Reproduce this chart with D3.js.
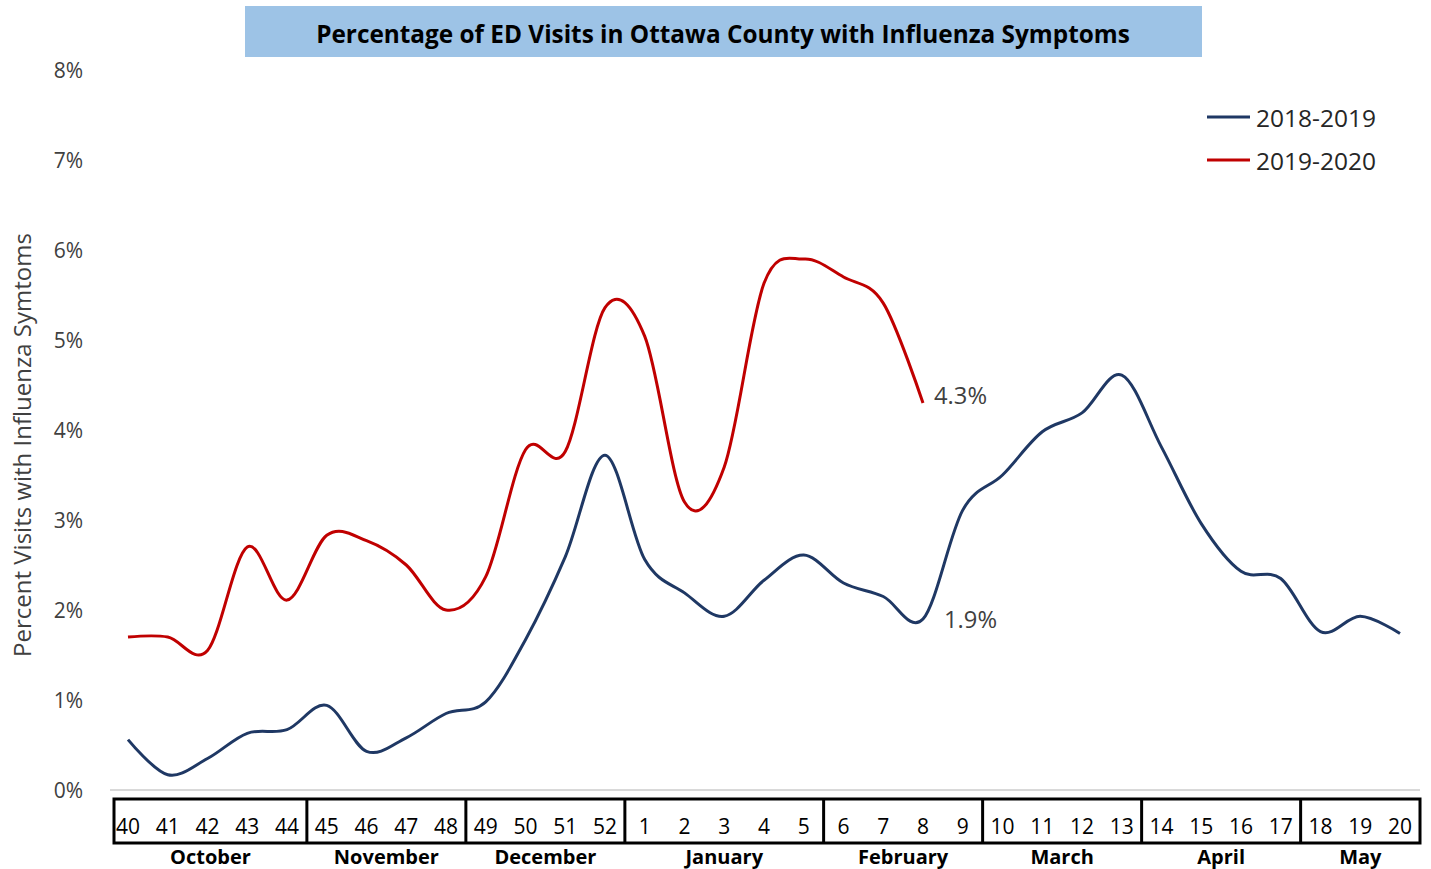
<!DOCTYPE html>
<html>
<head>
<meta charset="utf-8">
<script src="https://cdn.jsdelivr.net/npm/d3@7"></script>
<style>
  html, body { margin: 0; padding: 0; background: #fff; }
  svg { display: block; }
  text { font-family: "Open Sans", "Noto Sans", sans-serif; }
</style>
</head>
<body>
<svg id="chart" width="1431" height="869"></svg>
<script>
// ---------- DATA ----------
const weeks = [40,41,42,43,44,45,46,47,48,49,50,51,52,1,2,3,4,5,6,7,8,9,10,11,12,13,14,15,16,17,18,19,20];
const months = ["October","November","December","January","February","March","April","May"];
const weeksPerMonth = [5,4,4,5,4,4,4,3];
const season1819 = [0.56,0.17,0.35,0.63,0.67,0.94,0.43,0.58,0.85,0.98,1.67,2.59,3.72,2.56,2.19,1.93,2.33,2.61,2.30,2.15,1.90,3.11,3.50,3.98,4.19,4.61,3.81,2.96,2.43,2.35,1.76,1.93,1.74];
const season1920 = [1.70,1.70,1.55,2.70,2.11,2.83,2.77,2.50,2.00,2.37,3.78,3.76,5.36,5.04,3.20,3.59,5.63,5.90,5.70,5.41,4.30];
const yTicks = [0,1,2,3,4,5,6,7,8];
const seriesNames = ["2018-2019","2019-2020"];
const endLabels = ["1.9%","4.3%"];
const title = "Percentage of ED Visits in Ottawa County with Influenza Symptoms";
const yTitle = "Percent Visits with Influenza Symtoms";

// ---------- SETUP ----------
const svg = d3.select("#chart");
const colors = ["#1f3864", "#c00000"];

const x = d3.scaleLinear().domain([0, weeks.length - 1]).range([128, 1400]);
const y = d3.scaleLinear().domain([0, 8]).range([790, 70]);

function fitText(sel, target) {
  const node = sel.node();
  const fs = parseFloat(sel.attr("font-size"));
  const w = node.getComputedTextLength();
  if (w > 0) sel.attr("font-size", (fs * target / w).toFixed(2));
}

// title box
svg.append("rect").attr("x", 245).attr("y", 6).attr("width", 957).attr("height", 51).attr("fill", "#9dc3e6");
const t = svg.append("text").attr("x", 723).attr("y", 33).attr("text-anchor", "middle")
  .attr("dominant-baseline", "central").attr("font-weight", "bold").attr("font-size", 24)
  .attr("fill", "#000").text(title);
fitText(t, 814);

// y axis (labels only)
const yAxis = d3.axisLeft(y).tickValues(yTicks).tickFormat(d => d + "%").tickSize(0).tickPadding(0);
const gy = svg.append("g").attr("transform", "translate(83,0)").call(yAxis);
gy.select(".domain").remove();
gy.selectAll("text").attr("font-size", 21).attr("fill", "#404040")
  .attr("font-family", "'Open Sans', sans-serif").attr("dy", "0.35em");

// y title
const yt = svg.append("text").attr("transform", "translate(21,445) rotate(-90)")
  .attr("text-anchor", "middle").attr("dominant-baseline", "central")
  .attr("font-size", 20).attr("fill", "#404040").text(yTitle);
fitText(yt, 424);

// x baseline
svg.append("line").attr("x1", 110).attr("x2", 1420).attr("y1", y(0)).attr("y2", y(0))
  .attr("stroke", "#d9d9d9").attr("stroke-width", 2);

// lines
const line = d3.line().x((d, i) => x(i)).y(d => y(d)).curve(d3.curveCardinal.tension(0));
[season1819, season1920].forEach((s, k) => {
  svg.append("path").datum(s).attr("d", line).attr("fill", "none")
    .attr("stroke", colors[k]).attr("stroke-width", 3).attr("stroke-linejoin", "round");
});

// end labels (at last point of the current season)
const lastIdx = season1920.length - 1;
const l1 = svg.append("text").attr("x", x(lastIdx) + 21).attr("y", y(season1819[lastIdx]))
  .attr("dominant-baseline", "central").attr("font-size", 22).attr("fill", "#404040").text(endLabels[0]);
fitText(l1, 53);
const l2 = svg.append("text").attr("x", x(lastIdx) + 11).attr("y", y(season1920[lastIdx]) - 8)
  .attr("dominant-baseline", "central").attr("font-size", 22).attr("fill", "#404040").text(endLabels[1]);
fitText(l2, 53);

// legend
seriesNames.forEach((n, k) => {
  const ly = 117 + k * 43;
  svg.append("line").attr("x1", 1207).attr("x2", 1250).attr("y1", ly).attr("y2", ly)
    .attr("stroke", colors[k]).attr("stroke-width", 3);
  const lt = svg.append("text").attr("x", 1256).attr("y", ly).attr("dominant-baseline", "central")
    .attr("font-size", 22).attr("fill", "#262626").text(n);
  fitText(lt, 120);
});

// week/month table
const tTop = 799, tBot = 843;
const tLeft = 114, tRight = 1420;
const table = svg.append("g");
table.append("rect").attr("x", tLeft).attr("y", tTop).attr("width", tRight - tLeft).attr("height", tBot - tTop)
  .attr("fill", "none").attr("stroke", "#000").attr("stroke-width", 3);

let cum = 0;
const bounds = [tLeft];
weeksPerMonth.forEach((n, k) => {
  cum += n;
  if (k < weeksPerMonth.length - 1) bounds.push(x(cum - 0.5));
});
bounds.push(tRight);
bounds.slice(1, -1).forEach(b => {
  table.append("line").attr("x1", b).attr("x2", b).attr("y1", tTop).attr("y2", tBot)
    .attr("stroke", "#000").attr("stroke-width", 3);
});
weeks.forEach((w, i) => {
  table.append("text").attr("x", x(i)).attr("y", 826).attr("text-anchor", "middle")
    .attr("dominant-baseline", "central").attr("font-size", 21).attr("fill", "#000").text(w);
});
months.forEach((m, k) => {
  table.append("text").attr("x", (bounds[k] + bounds[k + 1]) / 2).attr("y", 856)
    .attr("text-anchor", "middle").attr("dominant-baseline", "central")
    .attr("font-size", 20).attr("font-weight", "bold").attr("fill", "#000").text(m);
});
</script>
</body>
</html>
